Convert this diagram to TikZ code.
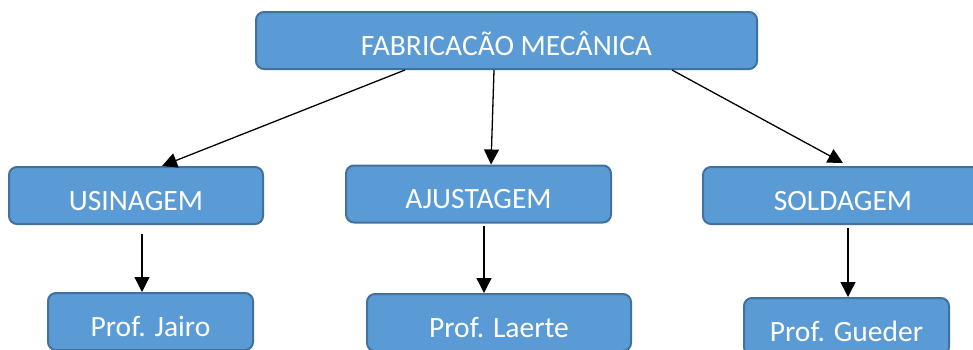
\documentclass[tikz,border=0pt]{standalone}
\usepackage{fontspec}
\setmainfont{Carlito}
\usetikzlibrary{arrows.meta,calc}
\definecolor{boxfill}{HTML}{5B9BD5}
\definecolor{boxline}{HTML}{41719C}
\tikzset{
  box/.style={draw=boxline, fill=boxfill, line width=2pt, rounded corners=8pt,
    rectangle, inner sep=0pt, minimum height=57pt, text=white,
    font=\fontsize{29.5}{35}\selectfont, text height=29pt, text depth=0pt},
  arr/.style={line width=1.3pt, -{Triangle[length=15pt,width=15pt]}}
}
\begin{document}
\begin{tikzpicture}[x=1pt,y=-1pt]
\useasboundingbox (0,0) rectangle (973,349);
\clip (0,0) rectangle (973,349);
\node[box, minimum width=501pt] (top) at (506.5,40.5) {FABRICACÃO MECÂNICA};
\node[box, minimum width=254pt] (usi) at (136,195.5) {USINAGEM};
\node[box, minimum width=265pt] (aju) at (478.5,194) {AJUSTAGEM};
\node[box, minimum width=280pt] (sol) at (843,195.5) {SOLDAGEM};
\node[box, minimum width=205pt] (jai) at (150.5,321.5) {Prof. Jairo};
\node[box, minimum width=264pt] (lae) at (499,322.5) {Prof. Laerte};
\node[box, minimum width=205pt] (gue) at (846.5,326.5) {Prof. Gueder};
\draw[arr] ([xshift=-101.5pt]top.south) -- ([xshift=26pt]usi.north);
\draw[arr] ([xshift=-12.5pt]top.south) -- ([xshift=12.5pt]aju.north);
\draw[arr] ([xshift=165.5pt]top.south) -- ([yshift=3pt]sol.north);
\draw[arr] ([xshift=6pt,yshift=-9pt]usi.south) -- ([xshift=-8.5pt]jai.north);
\draw[arr] ([xshift=5.5pt,yshift=-2pt]aju.south) -- ([xshift=-15pt]lae.north);
\draw[arr] ([xshift=5pt,yshift=-3pt]sol.south) -- ([xshift=1.5pt]gue.north);
\end{tikzpicture}
\end{document}
